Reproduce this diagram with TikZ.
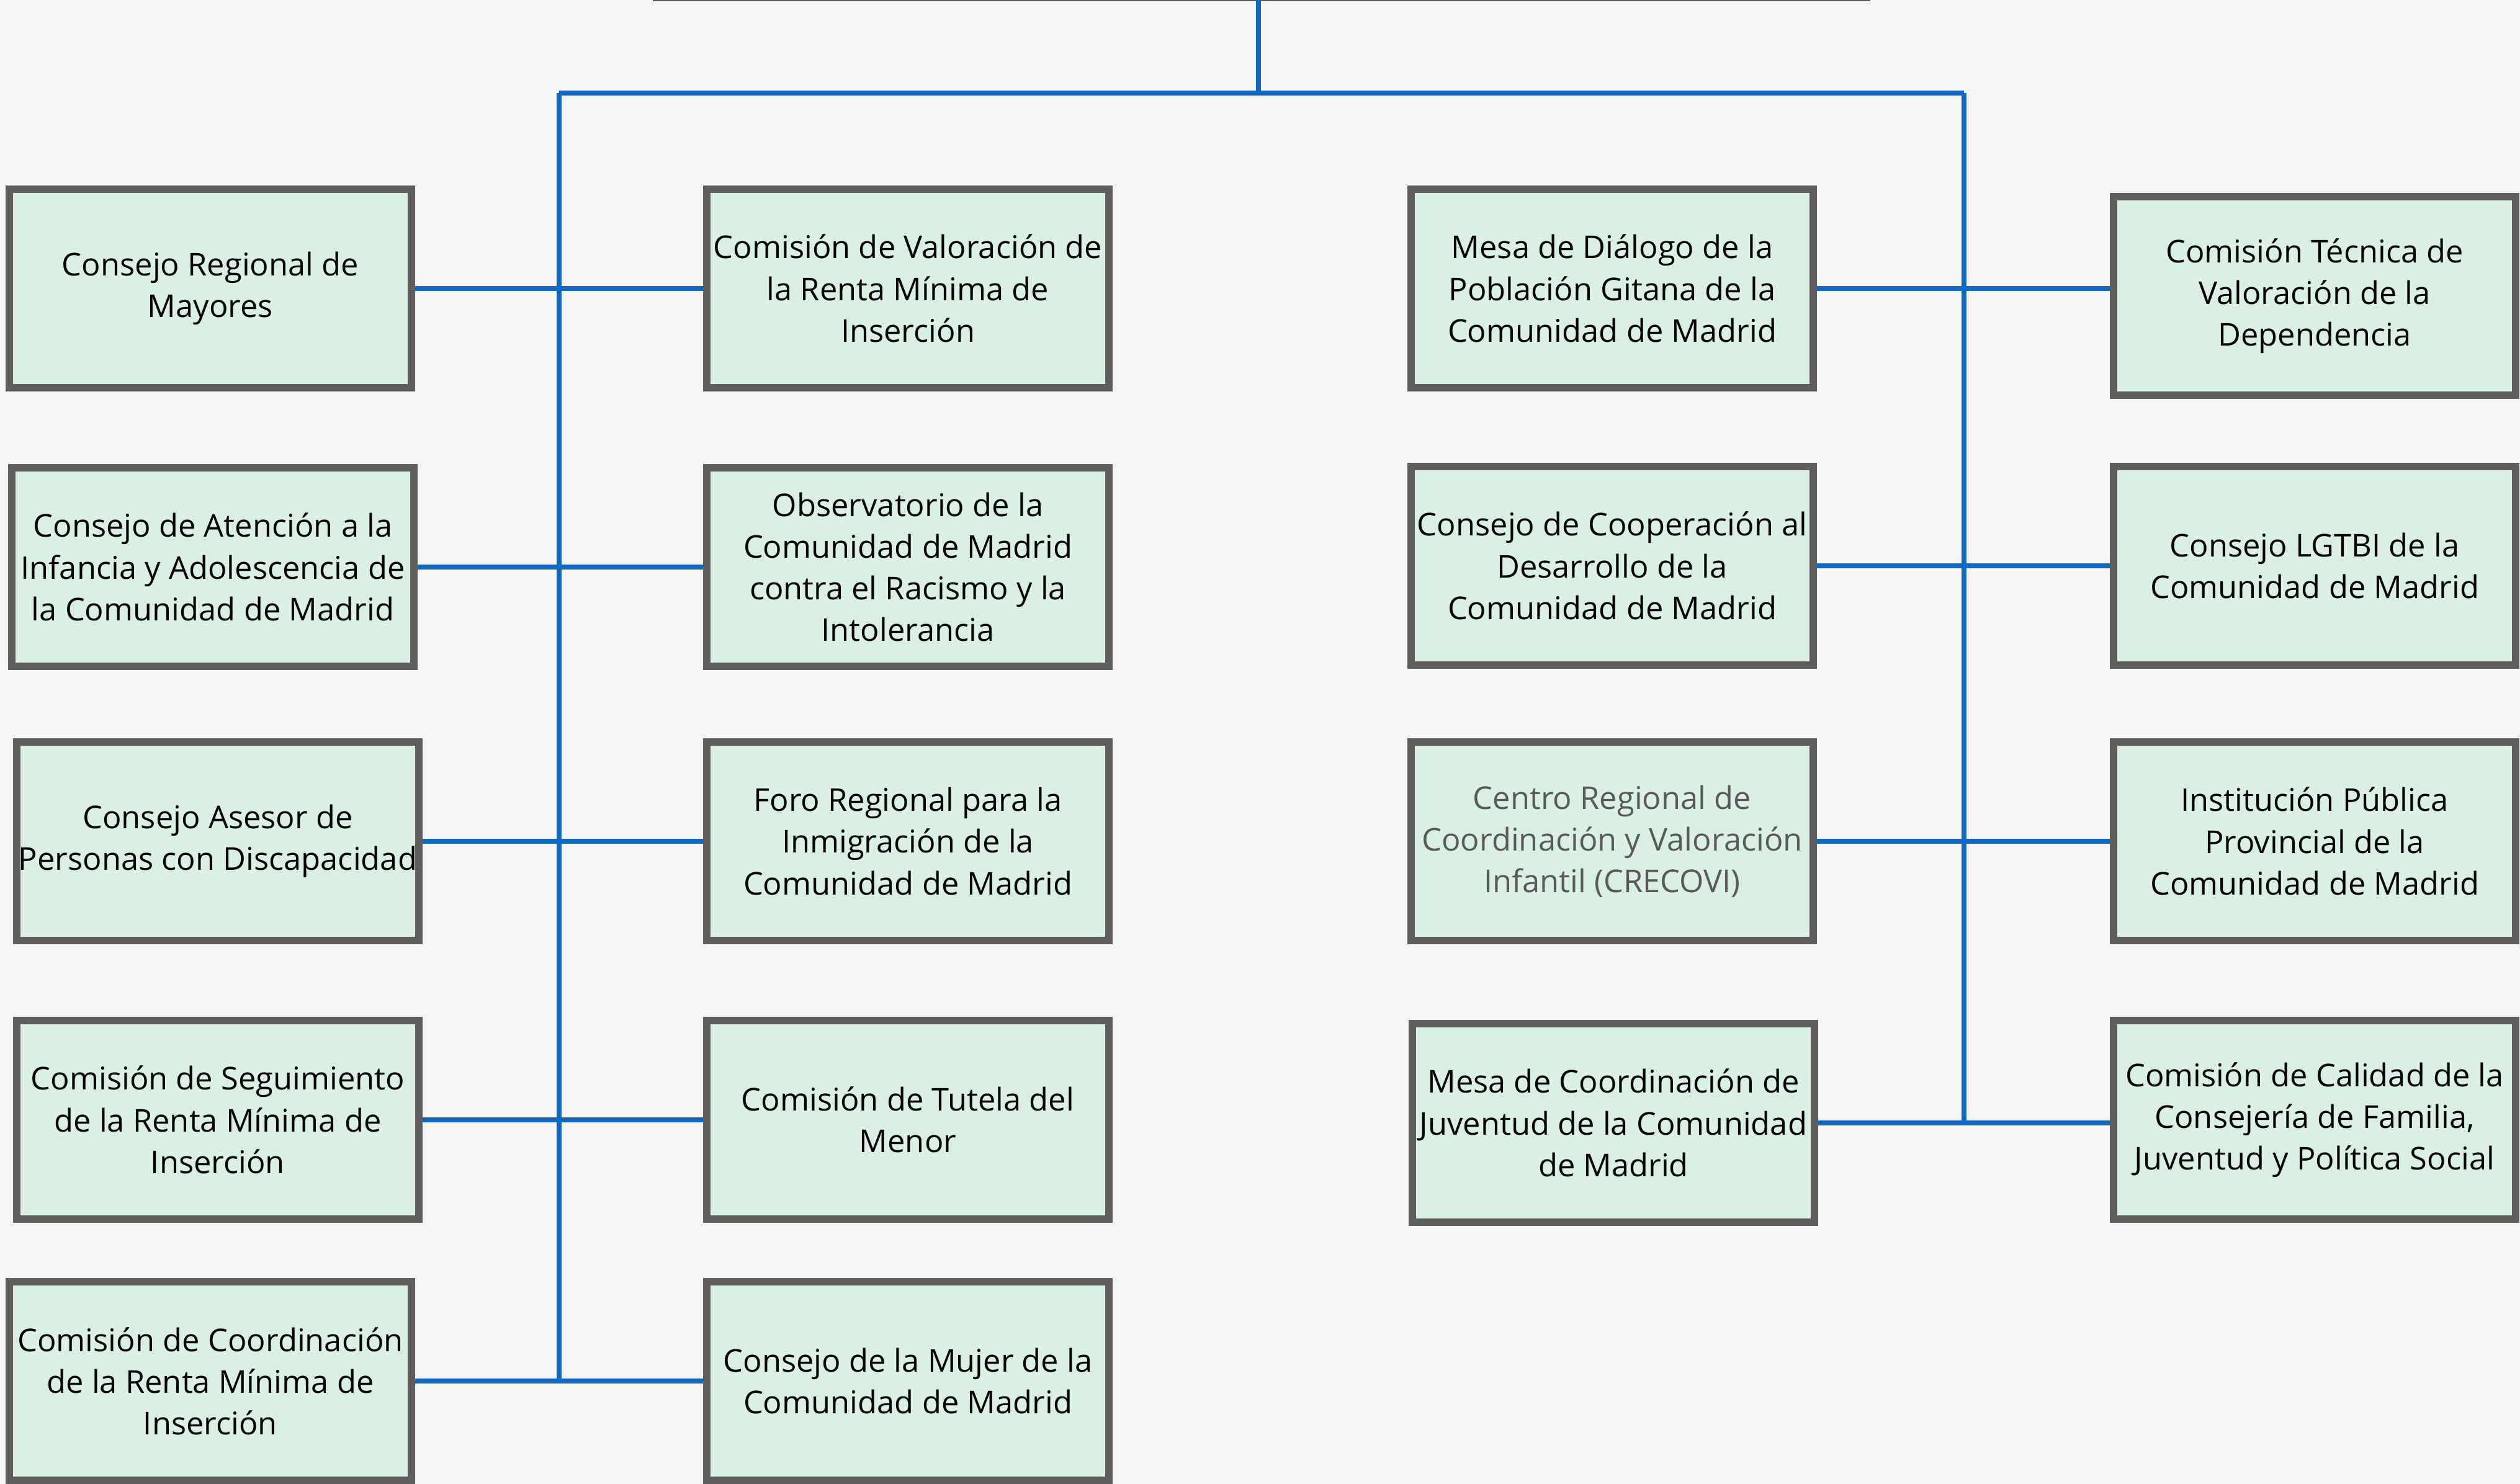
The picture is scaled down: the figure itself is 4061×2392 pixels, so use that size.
\documentclass[tikz,border=0pt]{standalone}
\usepackage{fontspec}
\setmainfont{Open Sans}
\definecolor{bg}{HTML}{F5F5F5}
\definecolor{boxfill}{HTML}{DAF0E4}
\definecolor{boxline}{HTML}{5F5E5C}
\definecolor{conn}{HTML}{1169C1}
\definecolor{graytext}{HTML}{5A5A5A}
\begin{document}
\begin{tikzpicture}[x=0.01cm,y=-0.01cm,
  orgbox/.style={rectangle,draw=boxline,fill=boxfill,line width=0.12cm,
    minimum width=6.48cm,minimum height=3.2cm,inner sep=0pt,align=center,
    font=\fontsize{14.4}{19.1}\selectfont},
  topbox/.style={rectangle,draw=boxline,fill=boxfill,line width=0.04cm,
    minimum width=19.56cm,minimum height=3cm},
  link/.style={draw=conn,line width=0.075cm}]
\useasboundingbox[fill=bg] (0,0) rectangle (4061,2392);
\node[topbox] (top) at (2033,-150) {};
% column 1
\node[orgbox] (a1) at (339,465) {Consejo Regional de\\Mayores};
\node[orgbox] (a2) at (343,914) {Consejo de Atención a la\\Infancia y Adolescencia de\\la Comunidad de Madrid};
\node[orgbox] (a3) at (351,1356) {Consejo Asesor de\\Personas con Discapacidad};
\node[orgbox] (a4) at (351,1805) {Comisión de Seguimiento\\de la Renta Mínima de\\Inserción};
\node[orgbox] (a5) at (339,2226) {Comisión de Coordinación\\de la Renta Mínima de\\Inserción};
% column 2
\node[orgbox] (b1) at (1463,465) {Comisión de Valoración de\\la Renta Mínima de\\Inserción};
\node[orgbox] (b2) at (1463,914) {Observatorio de la\\Comunidad de Madrid\\contra el Racismo y la\\Intolerancia};
\node[orgbox] (b3) at (1463,1356) {Foro Regional para la\\Inmigración de la\\Comunidad de Madrid};
\node[orgbox] (b4) at (1463,1805) {Comisión de Tutela del\\Menor};
\node[orgbox] (b5) at (1463,2226) {Consejo de la Mujer de la\\Comunidad de Madrid};
% column 3
\node[orgbox] (c1) at (2598,465) {Mesa de Diálogo de la\\Población Gitana de la\\Comunidad de Madrid};
\node[orgbox] (c2) at (2598,912) {Consejo de Cooperación al\\Desarrollo de la\\Comunidad de Madrid};
\node[orgbox,text=graytext] (c3) at (2598,1356) {Centro Regional de\\Coordinación y Valoración\\Infantil (CRECOVI)};
\node[orgbox] (c4) at (2600,1810) {Mesa de Coordinación de\\Juventud de la Comunidad\\de Madrid};
% column 4
\node[orgbox] (d1) at (3730,477) {Comisión Técnica de\\Valoración de la\\Dependencia};
\node[orgbox] (d2) at (3730,912) {Consejo LGTBI de la\\Comunidad de Madrid};
\node[orgbox] (d3) at (3730,1356) {Institución Pública\\Provincial de la\\Comunidad de Madrid};
\node[orgbox] (d4) at (3730,1805) {Comisión de Calidad de la\\Consejería de Familia,\\Juventud y Política Social};
% buses
\coordinate (topout) at (2028,0);
\coordinate (hub) at (2028,150);
\coordinate (lb) at (901,150);
\coordinate (rb) at (3165,150);
\draw[link] (topout) -- (hub);
\draw[link] (lb) -- (rb);
\draw[link] (lb) -- (lb |- a5.east);
\draw[link] (rb) -- (rb |- c4.east);
% row links
\draw[link] (a1.east) -- (a1.east -| b1.west);
\draw[link] (a2.east) -- (a2.east -| b2.west);
\draw[link] (a3.east) -- (a3.east -| b3.west);
\draw[link] (a4.east) -- (a4.east -| b4.west);
\draw[link] (a5.east) -- (a5.east -| b5.west);
\draw[link] (c1.east) -- (c1.east -| d1.west);
\draw[link] (c2.east) -- (c2.east -| d2.west);
\draw[link] (c3.east) -- (c3.east -| d3.west);
\draw[link] (c4.east) -- (c4.east -| d4.west);
\end{tikzpicture}
\end{document}
